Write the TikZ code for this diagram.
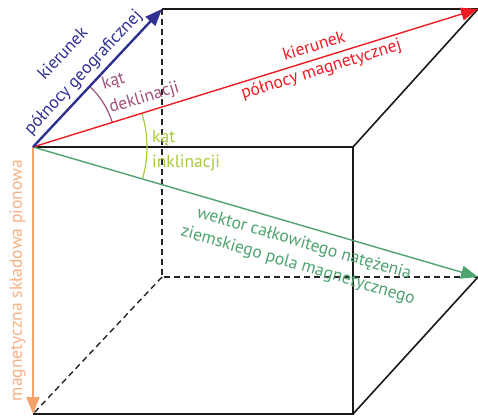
\documentclass[tikz,border=0pt]{standalone}
\usepackage{fontspec}
\setmainfont{PT Sans}
\usetikzlibrary{arrows.meta, calc}
\definecolor{bluGeo}{HTML}{2E3192}
\definecolor{rossoMag}{HTML}{ED1C24}
\definecolor{verdeVet}{HTML}{4FA36F}
\definecolor{arancioVert}{HTML}{F5A26C}
\definecolor{malvaDec}{HTML}{A0517D}
\definecolor{limeInc}{HTML}{A6CC3A}

\begin{document}
\begin{tikzpicture}[x=1pt, y=1pt,
    font=\fontsize{17.5}{22.5}\selectfont,
    spigolo/.style={black!90, line width=1.6pt},
    nascosto/.style={black!85, line width=1.4pt, dash pattern=on 6pt off 4pt},
    vettore/.style={-{Triangle[length=17pt, width=13pt]}},
    angolo/.style={inner sep=0pt, anchor=base west, align=left}]
    % Parametri
    \pgfmathsetmacro{\aGeo}{46.9}
    \pgfmathsetmacro{\aMag}{17.2}
    \pgfmathsetmacro{\aVet}{-16.3}
    \pgfmathsetmacro{\rDec}{83}
    \pgfmathsetmacro{\rInc}{114}
    \useasboundingbox (0,0) rectangle (478,417);
    % Vertici del cubo
    \coordinate (O) at (33,270);
    \coordinate (B) at (353,270);
    \coordinate (C) at (353,3);
    \coordinate (D) at (33,3);
    \coordinate (E) at (162,408);
    \coordinate (F) at (478,408);
    \coordinate (G) at (478,140);
    \coordinate (H) at (162,140);

    % Spigoli nascosti
    \draw[nascosto] (E) -- (H) -- (G);
    \draw[nascosto] (H) -- (D);
    % Spigoli visibili
    \draw[spigolo] (O) -- (B) -- (C) -- (D);
    \draw[spigolo] (E) -- (F) -- (B);
    \draw[spigolo] (C) -- (G);

    % Angoli
    \draw[malvaDec, line width=1.2pt] ($(O)+(\aMag:\rDec)$) arc (\aMag:\aGeo:\rDec);
    \draw[limeInc, line width=1.2pt] ($(O)+(\aVet:\rInc)$) arc (\aVet:\aMag:\rInc);
    \node[angolo, malvaDec, rotate=17] (dec) at (111,304) {kąt\\[2.5pt]deklinacji};
    \node[angolo, limeInc] (inc) at (152,249) {kąt\\[2.5pt]inklinacji};

    % Vettori
    \draw[vettore, arancioVert, line width=2.4pt] (O) -- (D)
        node[midway, left=3pt, rotate=90, anchor=south, text=arancioVert!85] (vert) {magnetyczna składowa pionowa};
    \draw[vettore, verdeVet, line width=1.4pt] (O) -- (G)
        node[pos=0.62, sloped, below=5pt, align=center] (vet) {wektor całkowitego natężenia\\ziemskiego pola magnetycznego};
    \draw[vettore, rossoMag, line width=1.4pt] (O) -- (F)
        node[pos=0.64, sloped, align=center] (mag) {kierunek\\[1.5pt]północy magnetycznej};
    \draw[vettore, bluGeo, line width=2.4pt] (O) -- (E)
        node[pos=0.47, sloped, above=1pt, align=center] (geo) {kierunek\\[5pt]północy geograficznej};
\end{tikzpicture}
\end{document}
